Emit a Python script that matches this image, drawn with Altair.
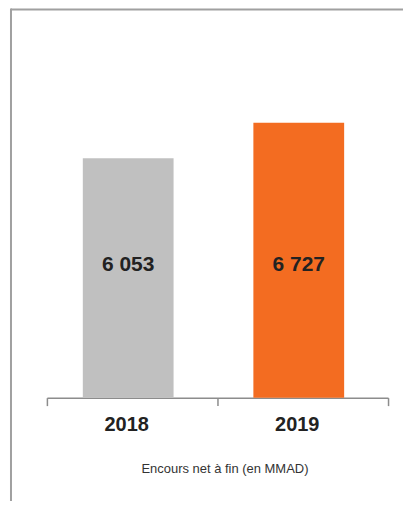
import altair as alt
import pandas as pd

years = ["2018", "2019"]
values = [6053, 6727]
labels = ["6 053", "6 727"]
colors = ["#c0c0c0", "#f36c21"]

df = pd.DataFrame({"year": years, "value": values, "label": labels, "color": colors})

FONT = "Liberation Sans"

x_enc = alt.X(
    "year:N",
    sort=years,
    scale=alt.Scale(paddingInner=0, paddingOuter=0),
    axis=alt.Axis(
        title="Encours net à fin (en MMAD)",
        titleFont=FONT,
        titleFontSize=13,
        titleFontWeight="normal",
        titleColor="#333333",
        titlePadding=28,
        titleX=178,
        labelFont=FONT,
        labelFontSize=20,
        labelFontWeight="bold",
        labelColor="#222222",
        labelPadding=9,
        labelOffset=-6,
        labelAngle=0,
        domainColor="#8c8c8c",
        domainWidth=1.5,
        tickColor="#8c8c8c",
        tickWidth=1.5,
        tickSize=8,
        tickBand="extent",
    ),
)

bars = alt.Chart(df).mark_bar(size=91, clip=True, xOffset=-4).encode(
    x=x_enc,
    y=alt.Y("value:Q", scale=alt.Scale(domain=[1500, 8500], zero=False), axis=None),
    color=alt.Color("color:N", scale=None),
)

text = alt.Chart(df).mark_text(
    font=FONT, fontSize=21, fontWeight="bold", color="#222222", baseline="middle", dx=-4
).encode(
    x=alt.X("year:N", sort=years),
    y=alt.value(236),
    text="label:N",
)

frame = pd.DataFrame({"k": [0]})
left_line = alt.Chart(frame).mark_rule(color="#a0a0a0", strokeWidth=2).encode(
    x=alt.value(-36), y=alt.value(-21), y2=alt.value(520)
)
top_line = alt.Chart(frame).mark_rule(color="#a0a0a0", strokeWidth=2).encode(
    x=alt.value(-36), x2=alt.value(420), y=alt.value(-20)
)

chart = (
    alt.layer(bars, text, left_line, top_line)
    .properties(
        width=342,
        height=369,
        autosize=alt.AutoSizeParams(type="none"),
        padding={"left": 39, "top": 21, "right": 15, "bottom": 103},
    )
    .configure_view(stroke=None)
)

chart.save("out.html", embed_options={"renderer": "svg", "actions": False})
